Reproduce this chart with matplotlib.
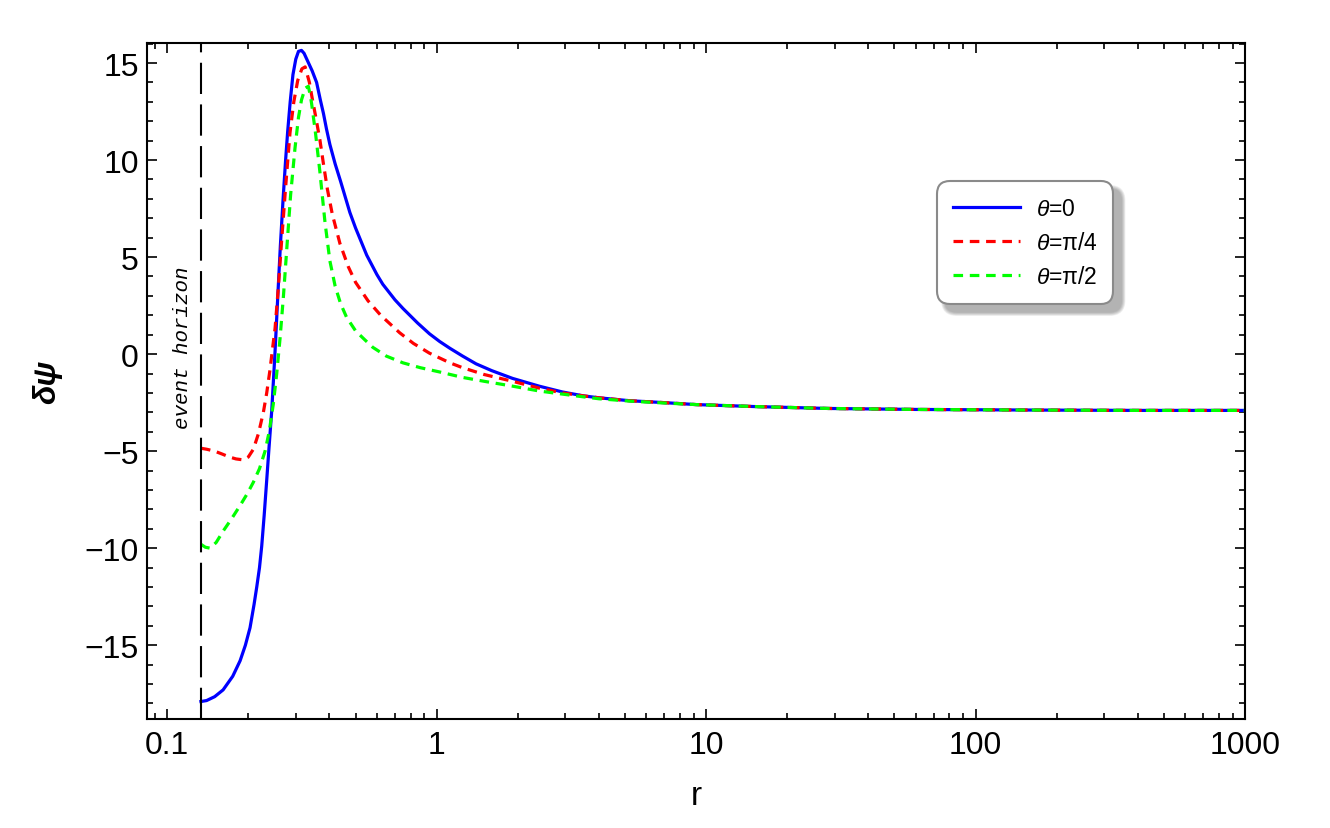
import matplotlib
matplotlib.use("Agg")
import matplotlib.pyplot as plt
import numpy as np
from matplotlib.patches import FancyBboxPatch
from matplotlib.transforms import IdentityTransform
from matplotlib.ticker import FixedLocator, MultipleLocator, LogLocator, FuncFormatter, NullFormatter

plt.rcParams['font.family'] = ['Liberation Sans', 'DejaVu Sans']
plt.rcParams['mathtext.fontset'] = 'custom'
plt.rcParams['mathtext.rm'] = 'Liberation Sans'
plt.rcParams['mathtext.it'] = 'Liberation Sans:italic'

r_horizon = 0.1334

# theta = 0
r_blue = [0.1334, 0.14, 0.15, 0.1612, 0.175, 0.1864, 0.195, 0.2029, 0.21, 0.2149,
          0.22, 0.2242, 0.229, 0.234, 0.239, 0.2443, 0.2512, 0.2577, 0.263, 0.2689,
          0.275, 0.28, 0.286, 0.2928, 0.30, 0.307, 0.315, 0.322, 0.332, 0.345,
          0.3584, 0.37, 0.38, 0.39, 0.4015, 0.42, 0.44, 0.46, 0.4762, 0.5,
          0.55, 0.6, 0.631, 0.7, 0.75, 0.85, 0.94, 1.026, 1.12, 1.248,
          1.4, 1.6, 1.912, 2.4, 2.929, 3.5, 4.0, 5.19, 7.0, 9.18,
          15, 28.5, 60, 150, 400, 1000]
v_blue = [-17.9, -17.85, -17.65, -17.3, -16.6, -15.8, -15.0, -14.1, -12.9, -12.0,
          -11.0, -9.9, -8.3, -6.5, -4.7, -2.9, 0.1, 3.2, 5.6, 7.9,
          10.0, 11.5, 13.0, 14.4, 15.2, 15.6, 15.65, 15.5, 15.1, 14.6,
          14.0, 13.1, 12.4, 11.6, 10.8, 9.8, 8.9, 8.0, 7.3, 6.5,
          5.1, 4.1, 3.6, 2.8, 2.35, 1.6, 1.05, 0.65, 0.3, -0.1,
          -0.5, -0.85, -1.25, -1.65, -1.95, -2.15, -2.25, -2.4, -2.5, -2.6,
          -2.7, -2.8, -2.85, -2.88, -2.9, -2.9]

# theta = pi/4
r_red = [0.1334, 0.14, 0.15, 0.16, 0.17, 0.18, 0.1917, 0.2, 0.2088, 0.218,
         0.2274, 0.234, 0.2407, 0.246, 0.2512, 0.258, 0.266, 0.275, 0.2855, 0.295,
         0.305, 0.316, 0.325, 0.337, 0.345, 0.356, 0.369, 0.38, 0.393, 0.41,
         0.4375, 0.47, 0.5, 0.556, 0.62, 0.729, 0.82, 0.94, 1.026, 1.12,
         1.248, 1.5, 1.912, 2.4, 2.929, 3.5, 4.0, 5.19, 7.0, 9.18,
         15, 28.5, 60, 150, 400, 1000]
v_red = [-4.85, -4.9, -5.0, -5.15, -5.3, -5.4, -5.45, -5.3, -4.9, -4.1,
         -3.0, -2.0, -0.8, 0.3, 1.3, 3.3, 5.9, 8.6, 11.4, 13.0,
         14.1, 14.7, 14.8, 14.0, 13.2, 12.2, 11.0, 9.8, 8.5, 7.2,
         5.7, 4.5, 3.7, 2.75, 2.0, 1.1, 0.55, 0.05, -0.2, -0.45,
         -0.7, -1.05, -1.4, -1.75, -2.0, -2.15, -2.25, -2.4, -2.5, -2.6,
         -2.7, -2.8, -2.85, -2.88, -2.9, -2.9]

# theta = pi/2
r_green = [0.1334, 0.1385, 0.1443, 0.152, 0.1616, 0.173, 0.1864, 0.198, 0.2088, 0.22,
           0.2307, 0.239, 0.2474, 0.2549, 0.2622, 0.27, 0.2777, 0.287, 0.2979, 0.307,
           0.315, 0.325, 0.3339, 0.34, 0.3435, 0.355, 0.3686, 0.385, 0.4015, 0.42,
           0.44, 0.463, 0.5, 0.54, 0.5794, 0.65, 0.75, 0.87, 1.026, 1.248,
           1.5, 1.912, 2.4, 2.929, 3.5, 4.0, 5.19, 7.0, 9.18, 15,
           28.5, 60, 150, 400, 1000]
v_green = [-9.8, -9.95, -10.0, -9.7, -9.1, -8.5, -7.8, -7.2, -6.6, -5.9,
           -5.0, -4.0, -2.6, -1.0, 0.8, 3.0, 5.4, 8.2, 10.6, 12.2,
           13.1, 13.7, 13.8, 13.3, 12.9, 11.4, 9.4, 6.8, 4.8, 3.5,
           2.6, 1.9, 1.2, 0.75, 0.35, -0.1, -0.45, -0.7, -0.92, -1.2,
           -1.4, -1.65, -1.9, -2.06, -2.2, -2.3, -2.42, -2.52, -2.6, -2.7,
           -2.8, -2.85, -2.88, -2.9, -2.9]

labels = ['$\\theta$=0', '$\\theta$=\u03c0/4', '$\\theta$=\u03c0/2']
x_ticks = [0.1, 1, 10, 100, 1000]

fig = plt.figure(figsize=(13.3, 8.29), dpi=100)
ax = fig.add_axes([0.1105, 0.1315, 0.8256, 0.8154])
ax.set_xscale('log')

ax.plot(r_blue, v_blue, color=(0, 0, 1), lw=2.3, label=labels[0])
l_red, = ax.plot(r_red, v_red, color=(1, 0, 0), lw=2.3, label=labels[1])
l_red.set_dashes([3.0, 2.1])
l_green, = ax.plot(r_green, v_green, color=(0, 1, 0), lw=2.3, label=labels[2])
l_green.set_dashes([3.0, 2.1])

eh = ax.axvline(r_horizon, color='black', lw=1.5)
eh.set_dashes([15, 5])
ax.text(0.1135, 0.4, 'event horizon', rotation=90, ha='center', va='center',
        family=['Liberation Mono', 'DejaVu Sans Mono'], style='italic', fontsize=15)

ax.set_xlim(0.0841, 1000)
ax.set_ylim(-18.8, 16.03)

ax.xaxis.set_major_locator(FixedLocator(x_ticks))
ax.xaxis.set_major_formatter(FuncFormatter(lambda v, p: '{:g}'.format(v)))
ax.xaxis.set_minor_locator(LogLocator(base=10, subs=np.arange(2, 10)))
ax.xaxis.set_minor_formatter(NullFormatter())
ax.yaxis.set_major_locator(MultipleLocator(5))
ax.yaxis.set_minor_locator(MultipleLocator(1))

ax.tick_params(which='both', direction='in', top=True, right=True, width=1.2)
ax.tick_params(which='major', length=7, labelsize=23)
ax.tick_params(which='minor', length=4)
ax.tick_params(axis='y', pad=6)
ax.tick_params(axis='x', pad=8)
for s in ax.spines.values():
    s.set_linewidth(1.5)

ax.set_xlabel('r', fontsize=24, labelpad=14)
ax.set_ylabel('\u03b4\u03c8', fontsize=23, style='italic', weight='bold', labelpad=16)

leg = ax.legend(loc='upper left', bbox_to_anchor=(0.7195, 0.796), borderaxespad=0,
                fontsize=16.5, frameon=True, fancybox=True, framealpha=1,
                borderpad=0.7, handlelength=2.9, handletextpad=0.7, labelspacing=0.48)
frame = leg.get_frame()
frame.set_edgecolor('#8a8a8a')
frame.set_linewidth(1.5)
frame.set_boxstyle('round', pad=0, rounding_size=0.55)
leg.set_zorder(6)

# soft drop shadow behind the legend box
fig.canvas.draw()
bb = leg.get_window_extent()
for k in range(8):
    g = 8 - k
    sh = FancyBboxPatch((bb.x0 + 8 - g / 2, bb.y0 - 8 - g / 2), bb.width + g, bb.height + g,
                        boxstyle='round,pad=0,rounding_size=%g' % (12 + g / 2),
                        transform=IdentityTransform(), facecolor='0.35', edgecolor='none',
                        alpha=0.07, zorder=5.5, clip_on=False)
    ax.add_artist(sh)

fig.savefig('out.png', dpi=100)
